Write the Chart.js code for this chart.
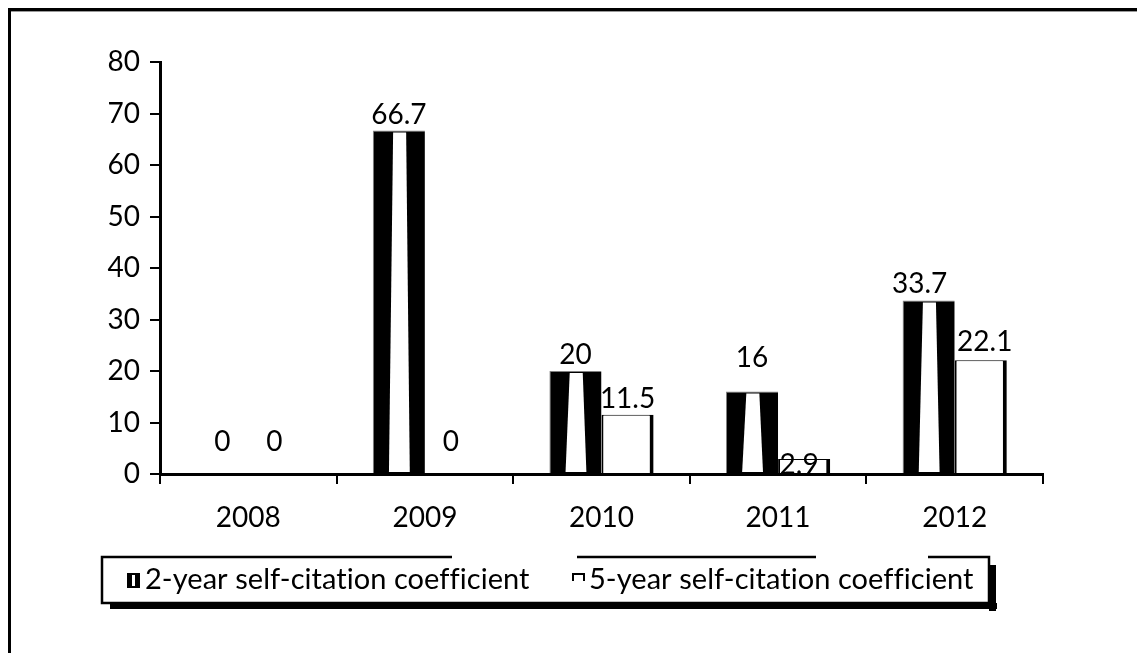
<!DOCTYPE html>
<html>
<head>
<meta charset="utf-8">
<title>Self-citation coefficients 2008–2012</title>
<script src="https://cdn.jsdelivr.net/npm/chart.js@4/dist/chart.umd.min.js"></script>
<style>
  html, body { margin: 0; padding: 0; background: #fff; }
  #wrap { width: 1137px; height: 653px; position: relative; }
</style>
</head>
<body>
<div id="wrap"><canvas id="chart" width="1137" height="653"></canvas></div>
<script>
// Years on the category axis
const years = ['2008', '2009', '2010', '2011', '2012'];
// Self-citation coefficients (%)
const twoYear = [0, 66.7, 20, 16, 33.7];
const fiveYear = [0, 0, 11.5, 2.9, 22.1];
const seriesNames = ['2-year self-citation coefficient', '5-year self-citation coefficient'];
// Value axis
const yMin = 0, yMax = 80, yStep = 10;

// Small label nudges [dx, dy] in px, per series and year (style only)
const labelNudge = [
  [[0, -16], [0, 0], [0, 0], [0, -18], [-9, 0]],
  [[0, -16], [0, -16], [0, 0], [-5, 22], [4, -2]]
];

const FONT = 'Lato, "Open Sans", sans-serif';
const FS = 28;      // axis and value text
const FS_KEY = 29;  // legend text

// White page with the outer frame (top and left edges)
const framePlugin = {
  id: 'frame',
  beforeDraw(chart) {
    const ctx = chart.ctx;
    ctx.save();
    ctx.fillStyle = '#fff';
    ctx.fillRect(0, 0, chart.width, chart.height);
    ctx.fillStyle = '#000';
    ctx.fillRect(8, 8, chart.width - 8, 3);
    ctx.fillRect(8, 8, 3, chart.height - 8);
    ctx.fillStyle = '#999';
    ctx.fillRect(11, 11, chart.width - 11, 1);
    ctx.restore();
  }
};

// White centre stripe inside the solid 2-year bars
const stripePlugin = {
  id: 'barStripes',
  afterDatasetDraw(chart, args) {
    if (args.index !== 0) return;
    const ctx = chart.ctx;
    args.meta.data.forEach(bar => {
      const h = bar.base - bar.y;
      if (h <= 2) return;
      const left = bar.x - bar.width / 2, w = bar.width;
      ctx.save();
      ctx.fillStyle = '#fff';
      ctx.beginPath();
      ctx.moveTo(left + w * 0.39, bar.y + 2);
      ctx.lineTo(left + w * 0.64, bar.y + 2);
      ctx.lineTo(left + w * 0.71, bar.base - 1);
      ctx.lineTo(left + w * 0.31, bar.base - 1);
      ctx.closePath();
      ctx.fill();
      ctx.restore();
    });
  }
};

// Value labels above each bar
const valueLabels = {
  id: 'valueLabels',
  afterDatasetsDraw(chart) {
    const ctx = chart.ctx;
    ctx.save();
    ctx.font = FS + 'px ' + FONT;
    ctx.fillStyle = '#000';
    ctx.textAlign = 'center';
    ctx.textBaseline = 'middle';
    chart.data.datasets.forEach((ds, di) => {
      chart.getDatasetMeta(di).data.forEach((bar, i) => {
        const n = labelNudge[di][i];
        ctx.fillText(String(ds.data[i]), bar.x + n[0], bar.y - 16 + n[1]);
      });
    });
    ctx.restore();
  }
};

// Boxed legend under the plot, with a drop shadow
const boxLegend = {
  id: 'boxLegend',
  afterDraw(chart) {
    const ctx = chart.ctx;
    const L = 102, T = 557, R = 989, B = 603;
    ctx.save();
    // shadow
    ctx.fillStyle = '#000';
    ctx.fillRect(L + 8, B, R - L, 6);
    ctx.fillRect(R, T + 8, 7, B - T);
    // frame
    ctx.fillStyle = '#fff';
    ctx.fillRect(L, T, R - L, B - T);
    ctx.strokeStyle = '#000';
    ctx.lineWidth = 2.5;
    ctx.beginPath();
    ctx.moveTo(452, T); ctx.lineTo(L, T); ctx.lineTo(L, B); ctx.lineTo(R, B); ctx.lineTo(R, T); ctx.lineTo(928, T);
    ctx.moveTo(577, T); ctx.lineTo(816, T);
    ctx.stroke();

    const cy = 580;
    // 2-year key: solid block with white stripe
    ctx.fillStyle = '#000';
    ctx.fillRect(127, 573, 13, 15);
    ctx.fillStyle = '#fff';
    ctx.fillRect(132, 575, 3, 11);
    // 5-year key: open white block
    ctx.strokeStyle = '#000';
    ctx.lineWidth = 2;
    ctx.beginPath();
    ctx.moveTo(573, 581); ctx.lineTo(573, 574); ctx.lineTo(584, 574); ctx.lineTo(584, 581);
    ctx.stroke();

    ctx.font = FS_KEY + 'px ' + FONT;
    if ('letterSpacing' in ctx) ctx.letterSpacing = '0.05px'; // keeps "ffi" as separate letters
    ctx.fillStyle = '#000';
    ctx.textAlign = 'left';
    ctx.textBaseline = 'middle';
    ctx.fillText(chart.data.datasets[0].label, 145, cy);
    ctx.fillText(chart.data.datasets[1].label, 589, cy);
    ctx.restore();
  }
};

new Chart(document.getElementById('chart'), {
  type: 'bar',
  data: {
    labels: years,
    datasets: [
      {
        label: seriesNames[0],
        data: twoYear,
        backgroundColor: '#000',
        borderColor: '#808080',
        borderWidth: { top: 1, left: 1, right: 0, bottom: 0 },
        borderSkipped: false
      },
      {
        label: seriesNames[1],
        data: fiveYear,
        backgroundColor: '#fff',
        borderColor: '#000',
        borderWidth: { top: 1, left: 2, right: 4, bottom: 0 },
        borderSkipped: false
      }
    ]
  },
  options: {
    responsive: false,
    animation: false,
    devicePixelRatio: 1,
    layout: { padding: { left: 0, top: 62, right: 94, bottom: 100 } },
    datasets: { bar: { categoryPercentage: 0.59, barPercentage: 1 } },
    plugins: { legend: { display: false }, tooltip: { enabled: false } },
    scales: {
      x: {
        offset: true,
        grid: { display: true, offset: true, drawOnChartArea: false, drawTicks: true, tickLength: 10, color: '#000', lineWidth: 2 },
        border: { display: true, color: '#000', width: 3 },
        ticks: { color: '#000', font: { family: FONT, size: FS }, padding: 17 },
        afterFit(scale) { scale.height = 79; }
      },
      y: {
        min: yMin,
        max: yMax,
        grid: { display: true, drawOnChartArea: false, drawTicks: true, tickLength: 10, color: '#000', lineWidth: 2 },
        border: { display: true, color: '#000', width: 3 },
        ticks: { stepSize: yStep, color: '#000', font: { family: FONT, size: FS }, padding: 10 },
        afterFit(scale) { scale.width = 160; }
      }
    }
  },
  plugins: [framePlugin, stripePlugin, valueLabels, boxLegend]
});
</script>
</body>
</html>
